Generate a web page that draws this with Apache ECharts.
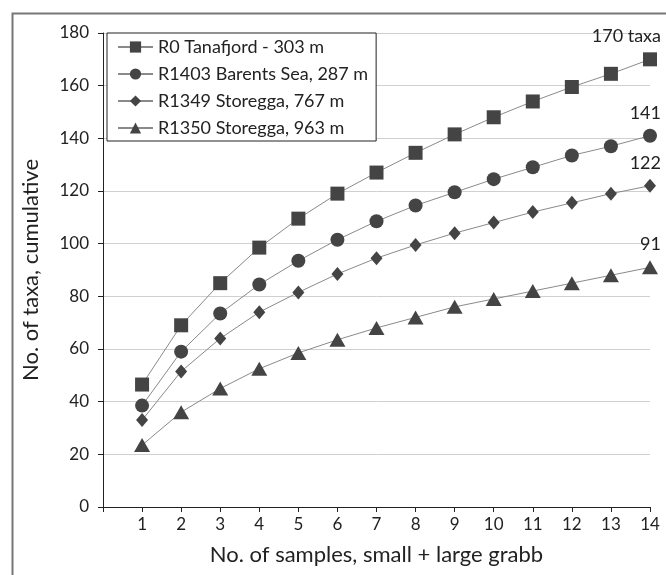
<!DOCTYPE html>
<html>
<head>
<meta charset="utf-8">
<script src="https://cdn.jsdelivr.net/npm/echarts@6/dist/echarts.min.js"></script>
<style>html,body{margin:0;padding:0;background:#fff}#c{width:666px;height:575px}</style>
</head>
<body>
<div id="c"></div>
<script>
const samples = [1,2,3,4,5,6,7,8,9,10,11,12,13,14];
const seriesNames = ['R0 Tanafjord - 303 m','R1403 Barents Sea, 287 m','R1349 Storegga, 767 m','R1350 Storegga, 963 m'];
const r0 =    [46.5, 69, 85, 98.5, 109.5, 119, 127, 134.5, 141.5, 148, 154, 159.5, 164.5, 170];
const r1403 = [38.5, 59, 73.5, 84.5, 93.5, 101.5, 108.5, 114.5, 119.5, 124.5, 129, 133.5, 137, 141];
const r1349 = [33, 51.5, 64, 74, 81.5, 88.5, 94.5, 99.5, 104, 108, 112, 115.5, 119, 122];
const r1350 = [23.5, 36, 45, 52.5, 58.5, 63.5, 68, 72, 76, 79, 82, 85, 88, 91];
const endLabels = ['170 taxa','141','122','91'];
const yTicks = [0,20,40,60,80,100,120,140,160,180];

const allValues = [r0, r1403, r1349, r1350];
const symbols = ['rect','circle','diamond','triangle'];
const symbolSizes = [14, 14, [12,14], [16,14]];
const FONT = 'Lato';
const TXT = '#222';

const series = allValues.map((vals, i) => ({
  name: seriesNames[i],
  type: 'line',
  symbol: symbols[i],
  symbolSize: symbolSizes[i],
  lineStyle: {color: '#8a8a8a', width: 1},
  itemStyle: {color: '#444'},
  emphasis: {disabled: true},
  data: vals.map((v, j) => {
    const d = {value: [samples[j], v]};
    if (j === vals.length - 1) {
      d.label = {show: true, formatter: endLabels[i], position: 'top', align: 'right',
        offset: [11, -2], fontFamily: FONT, fontSize: 18, color: TXT};
    }
    return d;
  })
}));

const chart = echarts.init(document.getElementById('c'), null, {renderer: 'canvas'});
chart.setOption({
  animation: false,
  backgroundColor: '#fff',
  graphic: [{type: 'rect', left: 10, top: 11, shape: {width: 700, height: 620},
    style: {fill: 'none', stroke: '#777', lineWidth: 2}, silent: true}],
  grid: {left: 103, right: 16, top: 33, bottom: 68},
  legend: {
    orient: 'vertical', left: 107, top: 33,
    backgroundColor: '#fff', borderColor: '#222', borderWidth: 1,
    padding: [4, 8, 3, 10], itemGap: 7, itemWidth: 35, itemHeight: 14,
    textStyle: {fontFamily: FONT, fontSize: 18, color: TXT, lineHeight: 20},
    data: seriesNames
  },
  xAxis: {
    type: 'value', min: 0, max: 14, interval: 1,
    name: 'No. of samples, small + large grabb', nameLocation: 'middle', nameGap: 37,
    nameTextStyle: {fontFamily: FONT, fontSize: 22, color: TXT},
    axisLine: {show: true, lineStyle: {color: '#222', width: 1}},
    axisTick: {show: true, length: 5, lineStyle: {color: '#222'}},
    axisLabel: {fontFamily: FONT, fontSize: 17, color: TXT, margin: 9,
      formatter: v => (v === 0 ? '' : String(v))},
    splitLine: {show: false}
  },
  yAxis: {
    type: 'value', min: yTicks[0], max: yTicks[yTicks.length - 1], interval: 20,
    name: 'No. of taxa, cumulative', nameLocation: 'middle', nameGap: 61,
    nameTextStyle: {fontFamily: FONT, fontSize: 22, color: TXT},
    axisLine: {show: true, lineStyle: {color: '#222', width: 1}},
    axisTick: {show: true, length: 5, inside: false, lineStyle: {color: '#222'}},
    axisLabel: {fontFamily: FONT, fontSize: 17, color: TXT, margin: 14},
    splitLine: {show: true, lineStyle: {color: '#d0d0d0', width: 1}}
  },
  series: series
});
</script>
</body>
</html>
